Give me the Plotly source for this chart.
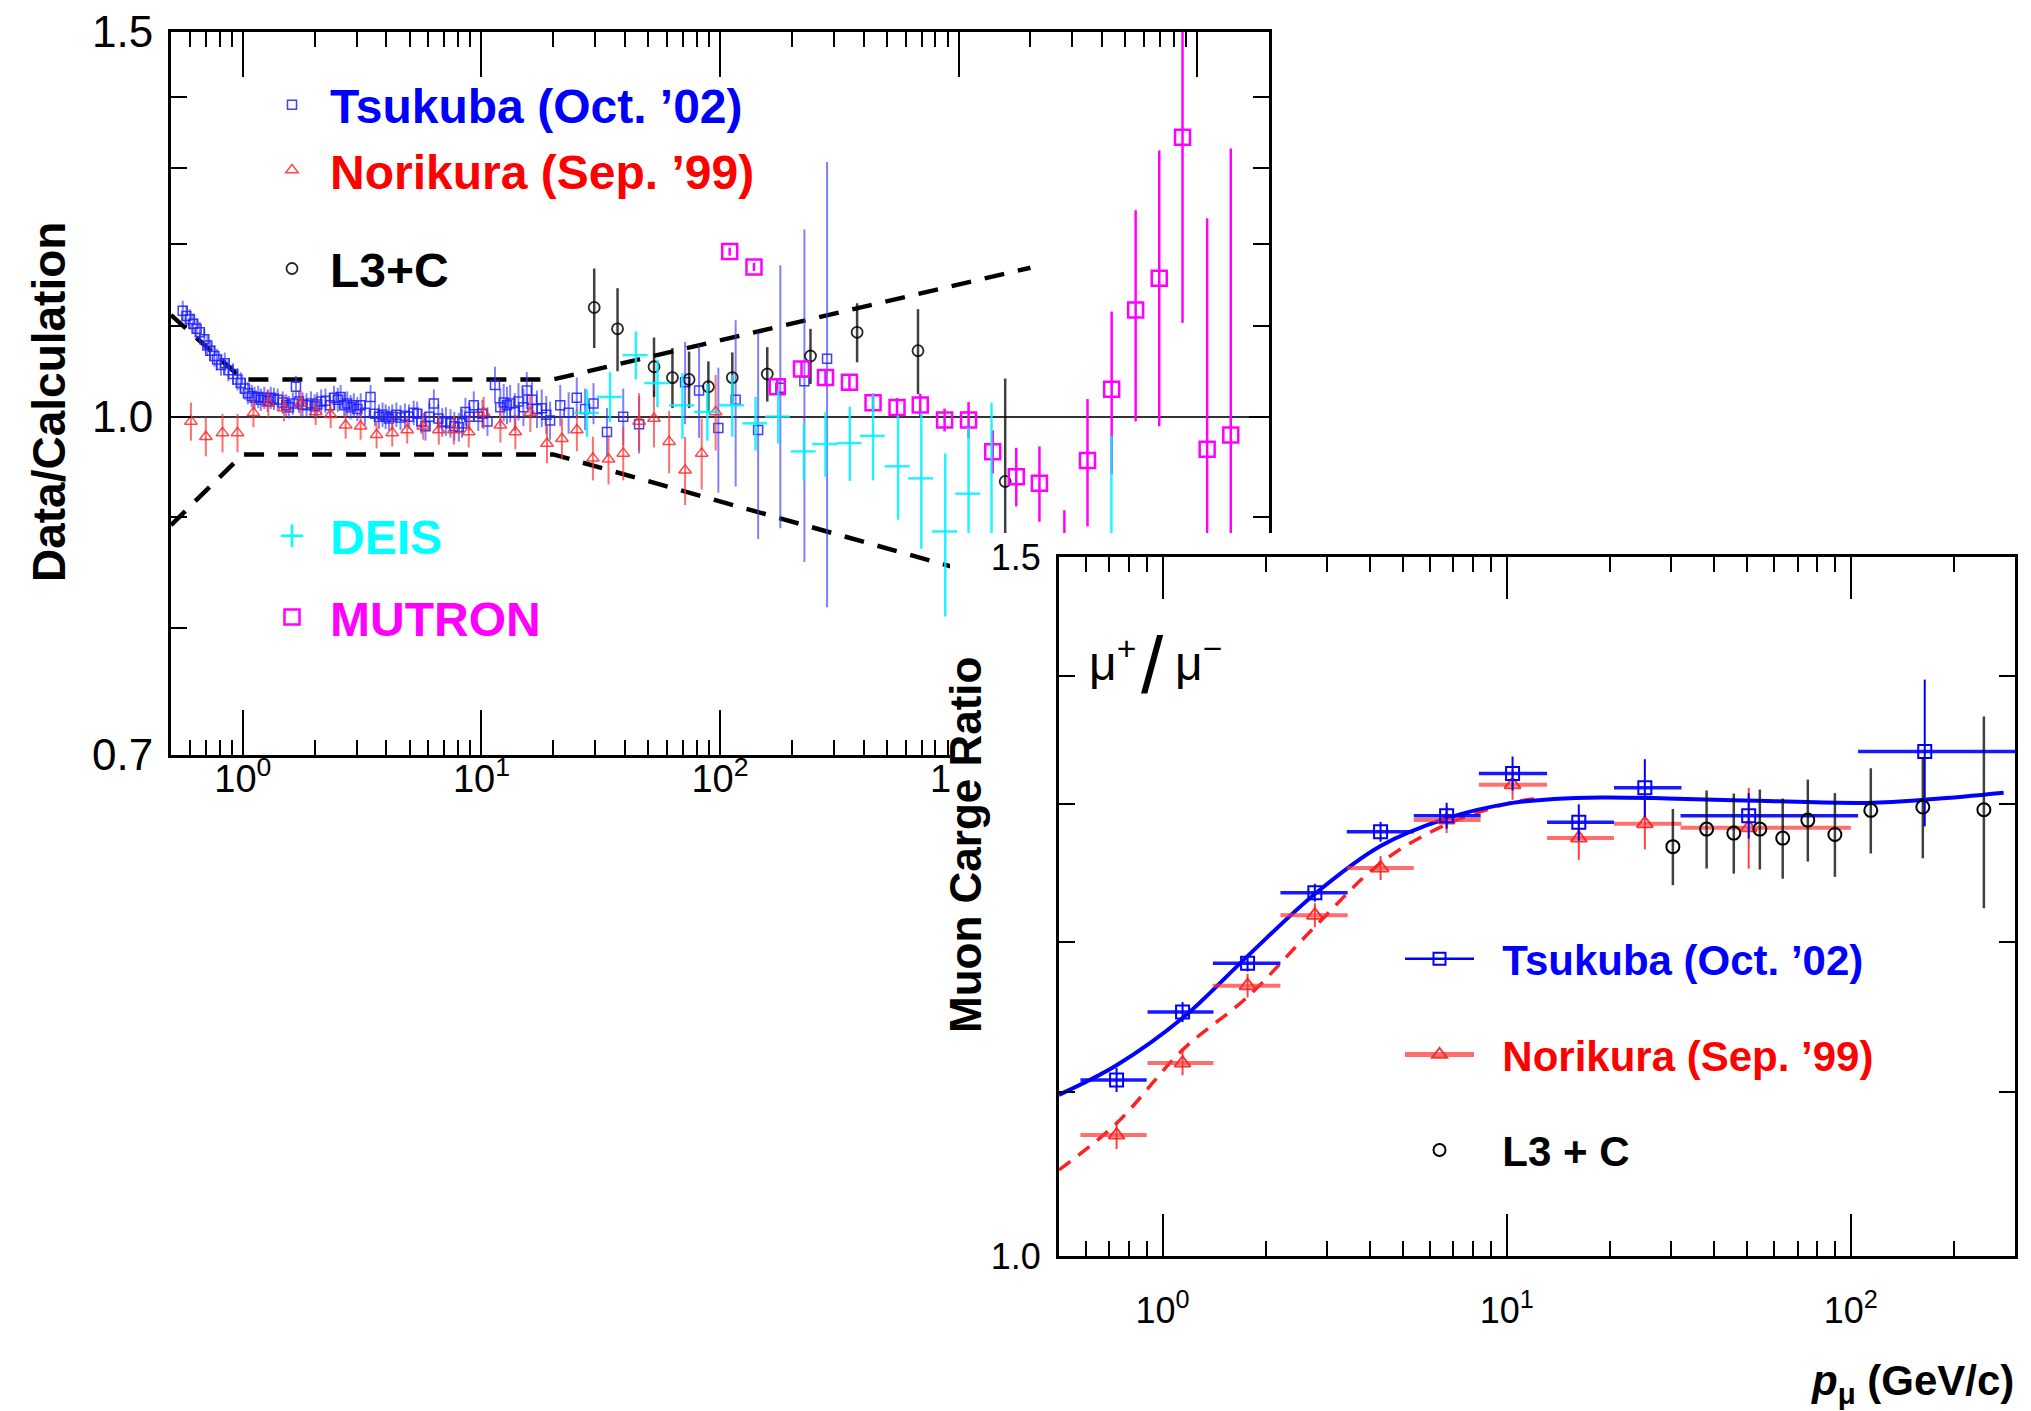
import math
import plotly.graph_objects as go

FONT = "Liberation Sans"
W, H = 2031, 1411

# ================= LEFT PANEL : Data / Calculation =================
tsu_p = [0.56, 0.58, 0.60, 0.62, 0.64, 0.66, 0.69, 0.71, 0.73, 0.76, 0.78, 0.81, 0.84, 0.87, 0.91,
         0.95, 0.98, 1.02, 1.05, 1.09, 1.12, 1.16, 1.19, 1.23, 1.27, 1.31, 1.35, 1.40, 1.47, 1.52,
         1.56, 1.62, 1.67, 1.72, 1.78, 1.85, 1.93, 2.00, 2.05, 2.13, 2.22, 2.32, 2.41, 2.50, 2.57,
         2.66, 2.74, 2.83, 2.92, 3.02, 3.12, 3.25, 3.43, 3.58, 3.72, 3.85, 3.97, 4.10, 4.23, 4.40,
         4.58, 4.78, 4.97, 5.20, 5.38, 5.60, 5.83, 6.05, 6.32, 6.60, 6.85, 7.10, 7.42, 7.70, 8.04,
         8.30, 8.57, 8.90, 9.29, 9.70, 10.1, 10.6, 11.4, 12.0, 12.4, 12.8, 13.2, 13.8, 14.3, 15.0,
         15.5, 16.3, 17.1, 17.9, 18.7, 19.4, 21.4, 23.2, 25.1, 27.2, 29.5, 33.6, 39.3, 45.8, 71.4,
         81.7, 98.4, 116.3, 144.5, 179.0, 225.8, 281.0]
tsu_ratio = [1.118, 1.112, 1.108, 1.103, 1.097, 1.093, 1.085, 1.078, 1.072, 1.066, 1.062, 1.056, 1.058, 1.050, 1.046,
             1.040, 1.036, 1.030, 1.025, 1.022, 1.020, 1.021, 1.018, 1.020, 1.017, 1.020, 1.019, 1.018, 1.015, 1.012,
             1.010, 1.014, 1.032, 1.016, 1.013, 1.012, 1.014, 1.011, 1.013, 1.016, 1.017, 1.012, 1.020, 1.018, 1.021,
             1.012, 1.014, 1.010, 1.012, 1.008, 1.012, 1.004, 1.021, 1.003, 1.000, 1.002, 1.000, 0.998, 1.000, 1.002,
             0.999, 1.001, 1.000, 1.004, 1.003, 0.995, 0.990, 1.000, 1.014, 0.998, 0.994, 0.995, 0.993, 0.990, 0.989,
             0.993, 1.005, 1.000, 1.012, 1.000, 1.003, 0.995, 1.034, 1.010, 1.015, 1.012, 1.014, 1.005, 1.016, 1.010,
             1.028, 1.018, 1.008, 1.009, 1.002, 0.996, 1.012, 1.004, 1.020, 1.008, 1.014, 0.984, 1.000, 0.992, 1.037,
             1.028, 0.988, 1.018, 0.986, 1.031, 1.038, 1.063]
tsu_err = [0.012, 0.012, 0.012, 0.012, 0.012, 0.012, 0.012, 0.012, 0.012, 0.012, 0.012, 0.012, 0.012, 0.012, 0.012,
           0.012, 0.012, 0.012, 0.012, 0.012, 0.012, 0.012, 0.012, 0.012, 0.012, 0.012, 0.012, 0.012, 0.012, 0.012,
           0.012, 0.012, 0.012, 0.012, 0.013, 0.013, 0.013, 0.013, 0.013, 0.013, 0.013, 0.013, 0.013, 0.013, 0.013,
           0.013, 0.013, 0.013, 0.013, 0.013, 0.013, 0.013, 0.013, 0.013, 0.013, 0.013, 0.013, 0.013, 0.013, 0.013,
           0.013, 0.013, 0.013, 0.013, 0.013, 0.013, 0.015, 0.015, 0.015, 0.015, 0.015, 0.015, 0.015, 0.015, 0.015,
           0.015, 0.015, 0.015, 0.015, 0.015, 0.015, 0.015, 0.020, 0.020, 0.020, 0.020, 0.020, 0.020, 0.020, 0.020,
           0.020, 0.020, 0.020, 0.020, 0.020, 0.020, 0.022, 0.022, 0.022, 0.022, 0.022, 0.025, 0.030, 0.030, 0.045,
           0.050, 0.065, 0.089, 0.107, 0.142, 0.180, 0.245]

nor_p = [0.606, 0.700, 0.822, 0.950, 1.108, 1.280, 1.489, 1.748, 2.020, 2.334, 2.697, 3.117, 3.636, 4.229,
         4.887, 5.701, 6.628, 7.661, 8.849, 10.22, 12.01, 13.88, 16.03, 18.83, 21.75, 25.13, 29.33, 34.1,
         39.3, 45.8, 52.9, 61.2, 71.4, 83.8, 95.9]
nor_ratio = [0.995, 0.979, 0.983, 0.983, 1.004, 1.014, 1.009, 1.014, 1.005, 1.002, 0.991, 0.990, 0.981, 0.983,
             0.986, 0.990, 0.986, 0.986, 0.984, 1.004, 0.991, 0.984, 1.004, 0.972, 0.977, 0.986, 0.957, 0.956,
             0.962, 0.995, 0.998, 0.974, 0.945, 0.962, 1.005]
nor_err = [0.020, 0.020, 0.020, 0.020, 0.015, 0.015, 0.014, 0.014, 0.014, 0.014, 0.014, 0.014, 0.014, 0.014,
           0.014, 0.014, 0.015, 0.015, 0.016, 0.017, 0.018, 0.018, 0.020, 0.020, 0.021, 0.022, 0.022, 0.025,
           0.027, 0.030, 0.030, 0.032, 0.034, 0.036, 0.040]

l3c_p = [29.7, 37.2, 52.9, 63.2, 74.2, 89.4, 112.6, 157.8, 239.5, 375.5, 675.8, 1568.0]
l3c_ratio = [1.122, 1.097, 1.054, 1.042, 1.040, 1.032, 1.042, 1.046, 1.066, 1.093, 1.072, 0.934]
l3c_err = [0.047, 0.048, 0.033, 0.033, 0.031, 0.028, 0.028, 0.030, 0.031, 0.034, 0.048, 0.107]

deis_p = [27.7, 34.6, 44.4, 54.7, 69.6, 88.5, 112.6, 141.0, 175.4, 224.7, 276.8, 349.9, 438.0, 557.5,
          698.0, 879.5, 1101.0, 1374.0, 4370.0]
deis_ratio = [1.004, 1.021, 1.067, 1.036, 1.012, 1.005, 1.012, 0.993, 1.000, 0.964, 0.9715, 0.9725, 0.980,
              0.949, 0.937, 0.886, 0.922, 0.880, 0.820]
deis_err = [0.025, 0.027, 0.027, 0.026, 0.035, 0.030, 0.033, 0.028, 0.028, 0.029, 0.033, 0.038, 0.045, 0.052,
            0.067, 0.076, 0.067, 0.135, 0.160]
deis_perr_pct = 12

mut_p = [109.8, 138.8, 173.8, 219.6, 276.8, 348.8, 438.0, 552.0, 691.0, 873.7, 1101.0, 1390.0, 1745.0,
         2182.0, 2776.0, 3470.0, 4381.0, 5521.0, 6934.0, 8681.0, 11010.0, 13830.0]
mut_ratio = [1.190, 1.171, 1.032, 1.0515, 1.042, 1.037, 1.0148, 1.0098, 1.0124, 0.9965, 0.9965, 0.9637,
             0.9387, 0.9321, 0.820, 0.9547, 1.0292, 1.119, 1.157, 1.3425, 0.9661, 0.9808]
mut_err = [0.005, 0.005, 0.008, 0.008, 0.008, 0.008, 0.010, 0.010, 0.012, 0.012, 0.019, 0.022, 0.029,
           0.037, 0.086, 0.064, 0.088, 0.124, 0.167, 0.2385, 0.2665, 0.346]

band_p = [0.5, 1.0, 20.0, 2000.0]
band_upper = [1.113, 1.040, 1.040, 1.170]
band_lower = [0.892, 0.961, 0.961, 0.834]

left_xticks = [1, 10, 100, 1000, 10000]
left_xticktext = ["10<sup>0</sup>", "10<sup>1</sup>", "10<sup>2</sup>", "10<sup>3</sup>", "10<sup>4</sup>"]
left_yticks = [0.7, 1.0, 1.5]
left_yticktext = ["0.7", "1.0", "1.5"]
left_yminor = [0.8, 0.9, 1.1, 1.2, 1.3, 1.4]

# ================= RIGHT PANEL : mu+/mu- charge ratio =================
r_tsu_p = [0.735, 1.143, 1.766, 2.77, 4.30, 6.69, 10.4, 16.2, 25.2, 50.5, 164.0]
r_tsu_lo = [0.577, 0.904, 1.40, 2.20, 3.43, 5.37, 8.3, 13.1, 20.5, 32.0, 105.0]
r_tsu_hi = [0.899, 1.406, 2.20, 3.45, 5.37, 8.4, 13.1, 20.5, 32.2, 105.0, 330.0]
r_tsu_ratio = [1.1075, 1.152, 1.185, 1.2346, 1.279, 1.291, 1.323, 1.286, 1.312, 1.291, 1.340]
r_tsu_err = [0.0077, 0.0067, 0.0055, 0.0064, 0.0074, 0.0097, 0.013, 0.0135, 0.022, 0.017, 0.057]

r_nor_p = [0.735, 1.143, 1.766, 2.77, 4.30, 6.69, 10.4, 16.2, 25.2, 50.5]
r_nor_lo = [0.577, 0.904, 1.40, 2.20, 3.43, 5.37, 8.3, 13.1, 20.5, 32.0]
r_nor_hi = [0.899, 1.406, 2.20, 3.45, 5.37, 8.4, 13.1, 20.5, 32.2, 100.0]
r_nor_ratio = [1.0727, 1.1184, 1.1698, 1.2186, 1.2524, 1.2877, 1.3144, 1.2743, 1.285, 1.282]
r_nor_err = [0.0087, 0.0078, 0.008, 0.0085, 0.0087, 0.0097, 0.0114, 0.016, 0.019, 0.030]

r_l3c_p = [30.4, 38.1, 45.7, 54.4, 63.4, 75.0, 89.9, 114.3, 161.9, 243.6]
r_l3c_ratio = [1.268, 1.281, 1.278, 1.281, 1.2743, 1.2877, 1.277, 1.295, 1.2975, 1.2955]
r_l3c_err = [0.028, 0.029, 0.0297, 0.0297, 0.0296, 0.0306, 0.031, 0.032, 0.038, 0.072]

fit_tsu_p = [0.5, 0.735, 1.143, 1.766, 2.77, 4.30, 6.69, 10.4, 13.7, 18.8, 29.3, 57.4, 112.0, 174.0, 278.0]
fit_tsu = [1.098, 1.117, 1.148, 1.190, 1.2337, 1.2685, 1.289, 1.3006, 1.3035, 1.3047, 1.304, 1.302, 1.3006,
           1.3035, 1.3083]
fit_nor_p = [0.5, 0.735, 1.143, 1.766, 2.77, 4.30, 6.69, 10.4, 12.0]
fit_nor = [1.0512, 1.080, 1.127, 1.1622, 1.2104, 1.256, 1.2845, 1.301, 1.3035]

right_xticks = [1, 10, 100]
right_xticktext = ["10<sup>0</sup>", "10<sup>1</sup>", "10<sup>2</sup>"]
right_yticks = [1.0, 1.5]
right_yticktext = ["1.0", "1.5"]
right_yminor = [1.1, 1.2, 1.3, 1.4]

# ---------------- helpers ----------------
def minor_log(lo, hi):
    out = []
    for e in range(-2, 6):
        for k in range(2, 10):
            v = k * 10 ** e
            if lo - 1e-9 <= v <= hi + 1e-9:
                out.append(round(v, 6))
    return out


def col(name, color):
    return '<span style="color:%s">%s</span>' % (color, name)

BLUE = "#0000ff"
RED = "#ff0000"
CYAN = "#00ffff"
MAG = "#ff00ff"

fig = go.Figure()

# ---- left panel traces ----
for band in (band_upper, band_lower):
    fig.add_trace(go.Scatter(x=band_p, y=band, mode="lines", xaxis="x", yaxis="y",
                             line=dict(color="black", width=4.5, dash="20px,14px"),
                             showlegend=False, hoverinfo="skip"))

fig.add_trace(go.Scatter(
    x=tsu_p, y=tsu_ratio, mode="markers", xaxis="x", yaxis="y",
    marker=dict(symbol="square-open", size=9, color="rgba(30,30,255,0.85)", line=dict(width=1.5)),
    error_y=dict(type="data", array=tsu_err, color="rgba(60,60,255,0.65)", thickness=2, width=0),
    name=col("Tsukuba (Oct. ’02)", BLUE), legend="legend", legendgroup="a"))

fig.add_trace(go.Scatter(
    x=nor_p, y=nor_ratio, mode="markers", xaxis="x", yaxis="y",
    marker=dict(symbol="triangle-up-open", size=11, color="rgba(255,40,40,0.85)", line=dict(width=1.5)),
    error_y=dict(type="data", array=nor_err, color="rgba(255,50,50,0.7)", thickness=2, width=0),
    name=col("Norikura (Sep. ’99)", RED), legend="legend", legendgroup="a"))

fig.add_trace(go.Scatter(
    x=l3c_p, y=l3c_ratio, mode="markers", xaxis="x", yaxis="y",
    marker=dict(symbol="circle-open", size=11, color="rgba(0,0,0,0.85)", line=dict(width=1.8)),
    error_y=dict(type="data", array=l3c_err, color="rgba(0,0,0,0.75)", thickness=2.5, width=0),
    name="L3+C", legend="legend", legendgroup="b"))

fig.add_trace(go.Scatter(
    x=[None], y=[None], mode="markers", xaxis="x", yaxis="y",
    marker=dict(symbol="cross-thin-open", size=24, color=CYAN, line=dict(width=2.5, color=CYAN)),
    name=col("DEIS", CYAN), legend="legend2", legendgroup="c"))

fig.add_trace(go.Scatter(
    x=mut_p, y=mut_ratio, mode="markers", xaxis="x", yaxis="y",
    marker=dict(symbol="square-open", size=15, color=MAG, line=dict(width=2.5)),
    error_y=dict(type="data", array=mut_err, color=MAG, thickness=2.5, width=0),
    name=col("MUTRON", MAG), legend="legend2", legendgroup="d"))

fig.add_trace(go.Scatter(
    x=deis_p, y=deis_ratio, mode="markers", xaxis="x", yaxis="y",
    marker=dict(size=1, color="rgba(0,0,0,0)"),
    error_y=dict(type="data", array=deis_err, color="rgba(0,240,255,0.85)", thickness=2.5, width=0),
    error_x=dict(type="percent", value=deis_perr_pct, color="rgba(0,240,255,0.85)", thickness=2.5, width=0),
    showlegend=False, hoverinfo="skip"))

# ---- cover subplot (white, hides lower-right of left panel) ----
fig.add_trace(go.Scatter(x=[None], y=[None], xaxis="x2", yaxis="y2", showlegend=False, hoverinfo="skip"))

# ---- right panel traces ----
fig.add_trace(go.Scatter(x=fit_nor_p, y=fit_nor, mode="lines", xaxis="x3", yaxis="y3",
                         line=dict(color="#ff2020", width=3.5, dash="14px,10px", shape="spline"),
                         showlegend=False, hoverinfo="skip"))
fig.add_trace(go.Scatter(x=fit_tsu_p, y=fit_tsu, mode="lines", xaxis="x3", yaxis="y3",
                         line=dict(color=BLUE, width=4, shape="spline"),
                         showlegend=False, hoverinfo="skip"))

fig.add_trace(go.Scatter(
    x=r_nor_p, y=r_nor_ratio, mode="markers", xaxis="x3", yaxis="y3",
    marker=dict(symbol="triangle-up-open", size=14, color="rgba(255,30,30,0.9)", line=dict(width=2)),
    error_x=dict(type="data", array=[h - p for h, p in zip(r_nor_hi, r_nor_p)],
                 arrayminus=[p - l for l, p in zip(r_nor_lo, r_nor_p)],
                 color="rgba(255,50,50,0.7)", thickness=4, width=0),
    error_y=dict(type="data", array=r_nor_err, color="rgba(255,30,30,0.85)", thickness=2, width=0),
    showlegend=False))

fig.add_trace(go.Scatter(
    x=r_tsu_p, y=r_tsu_ratio, mode="markers", xaxis="x3", yaxis="y3",
    marker=dict(symbol="square-open", size=13, color=BLUE, line=dict(width=2)),
    error_x=dict(type="data", array=[h - p for h, p in zip(r_tsu_hi, r_tsu_p)],
                 arrayminus=[p - l for l, p in zip(r_tsu_lo, r_tsu_p)],
                 color="rgba(0,0,255,0.9)", thickness=3.5, width=0),
    error_y=dict(type="data", array=r_tsu_err, color=BLUE, thickness=2, width=0),
    showlegend=False))

fig.add_trace(go.Scatter(
    x=r_l3c_p, y=r_l3c_ratio, mode="markers", xaxis="x3", yaxis="y3",
    marker=dict(symbol="circle-open", size=13, color="black", line=dict(width=2)),
    error_y=dict(type="data", array=r_l3c_err, color="rgba(0,0,0,0.75)", thickness=2.5, width=0),
    showlegend=False))

# legend entries of the right panel
NB = "\u00a0\u00a0"
fig.add_trace(go.Scatter(x=[None], y=[None], mode="lines+markers", xaxis="x3", yaxis="y3",
                         line=dict(color=BLUE, width=2.5),
                         marker=dict(symbol="square-open", size=12, color=BLUE, line=dict(width=2)),
                         name=NB + col("Tsukuba (Oct. ’02)", BLUE), legend="legend3", legendgroup="r1"))
fig.add_trace(go.Scatter(x=[None], y=[None], mode="lines+markers", xaxis="x3", yaxis="y3",
                         line=dict(color="rgba(255,60,60,0.75)", width=5),
                         marker=dict(symbol="triangle-up-open", size=13, color="rgba(255,30,30,0.9)",
                                     line=dict(width=2)),
                         name=NB + col("Norikura (Sep. ’99)", RED), legend="legend3", legendgroup="r2"))
fig.add_trace(go.Scatter(x=[None], y=[None], mode="markers", xaxis="x3", yaxis="y3",
                         marker=dict(symbol="circle-open", size=12, color="black", line=dict(width=2)),
                         name=NB + "L3 + C", legend="legend3", legendgroup="r3"))

# ---------------- axes ----------------
def dom_x(a, b):
    return [a / W, b / W]


def dom_y(top, bottom):
    return [(H - bottom) / H, (H - top) / H]

axis_common = dict(showline=True, linecolor="black", linewidth=3, mirror="ticks", ticks="inside",
                   tickcolor="black", tickwidth=2, showgrid=False, zeroline=False,
                   tickfont=dict(family=FONT, color="black"))

fig.update_layout(
    xaxis=dict(axis_common, type="log", range=[math.log10(0.5), math.log10(2e4)], domain=dom_x(171, 1269),
               anchor="y", tickmode="array", tickvals=left_xticks, ticktext=left_xticktext, ticklen=45,
               tickfont=dict(family=FONT, size=38, color="black"), ticklabelstandoff=-12,
               minor=dict(tickmode="array", tickvals=minor_log(0.5, 2e4), ticks="inside", ticklen=15,
                          tickwidth=2, tickcolor="black", showgrid=False)),
    yaxis=dict(axis_common, type="log", range=[math.log10(0.7), math.log10(1.5)], domain=dom_y(32, 755),
               anchor="x", tickmode="array", tickvals=left_yticks, ticktext=left_yticktext, ticklen=20,
               tickfont=dict(family=FONT, size=44, color="black"), ticklabelstandoff=6,
               showgrid=True, gridcolor="#333333", gridwidth=2,
               minor=dict(tickmode="array", tickvals=left_yminor, ticks="inside", ticklen=16,
                          tickwidth=2, tickcolor="black", showgrid=False)),
    xaxis2=dict(domain=[950 / W, 1.0], anchor="y2", range=[0, 1], showline=False, showticklabels=False,
                ticks="", showgrid=False, zeroline=False),
    yaxis2=dict(domain=[0.0, (H - 533) / H], anchor="x2", range=[0, 1], showline=False,
                showticklabels=False, ticks="", showgrid=False, zeroline=False),
    xaxis3=dict(axis_common, type="log", range=[math.log10(0.5), math.log10(300)], domain=dom_x(1059, 2015),
                anchor="y3", tickmode="array", tickvals=right_xticks, ticktext=right_xticktext, ticklen=42,
                tickfont=dict(family=FONT, size=36, color="black"), ticklabelstandoff=21,
                minor=dict(tickmode="array", tickvals=minor_log(0.5, 300), ticks="inside", ticklen=15,
                           tickwidth=2, tickcolor="black", showgrid=False)),
    yaxis3=dict(axis_common, type="log", range=[0, math.log10(1.5)], domain=dom_y(557, 1256),
                anchor="x3", tickmode="array", tickvals=right_yticks, ticktext=right_yticktext, ticklen=16,
                tickfont=dict(family=FONT, size=36, color="black"), ticklabelstandoff=8,
                minor=dict(tickmode="array", tickvals=right_yminor, ticks="inside", ticklen=16,
                           tickwidth=2, tickcolor="black", showgrid=False)),
)

legend_common = dict(bgcolor="rgba(0,0,0,0)", borderwidth=0, xanchor="left", yanchor="top",
                     traceorder="grouped", itemclick=False, itemdoubleclick=False)
fig.update_layout(
    legend=dict(legend_common, x=254 / W, y=1 - 67 / H, tracegroupgap=33, itemwidth=66,
                font=dict(family=FONT, size=48, color="black", weight="bold")),
    legend2=dict(legend_common, x=254 / W, y=1 - 498 / H, tracegroupgap=16, itemwidth=66,
                 font=dict(family=FONT, size=48, color="black", weight="bold")),
    legend3=dict(legend_common, x=1400 / W, y=1 - 925 / H, tracegroupgap=38, itemwidth=69,
                 font=dict(family=FONT, size=42, color="black", weight="bold")),
)

annotations = [
    dict(text="<b>Data/Calculation</b>", x=49 / W, y=1 - 402 / H, xref="paper", yref="paper",
         textangle=-90, showarrow=False, font=dict(family=FONT, size=46, color="black"),
         xanchor="center", yanchor="middle"),
    dict(text="<b>Muon Carge Ratio</b>", x=965 / W, y=1 - 845 / H, xref="paper", yref="paper",
         textangle=-90, showarrow=False, font=dict(family=FONT, size=44, color="black"),
         xanchor="center", yanchor="middle"),
    dict(text="<b><i>p</i><sub>μ</sub> (GeV/c)</b>", x=2016 / W, y=1 - 1383 / H, xref="paper", yref="paper",
         showarrow=False, font=dict(family=FONT, size=42, color="black"), xanchor="right", yanchor="middle"),
    dict(text="μ<sup>+</sup>", x=1112 / W, y=1 - 660 / H, xref="paper", yref="paper",
         showarrow=False, font=dict(family=FONT, size=48, color="black"), xanchor="center", yanchor="middle"),
    dict(text="/", x=1152 / W, y=1 - 666 / H, xref="paper", yref="paper",
         showarrow=False, font=dict(family=FONT, size=80, color="black"), xanchor="center", yanchor="middle"),
    dict(text="μ<sup>−</sup>", x=1198 / W, y=1 - 660 / H, xref="paper", yref="paper",
         showarrow=False, font=dict(family=FONT, size=48, color="black"), xanchor="center", yanchor="middle"),
]

fig.update_layout(
    width=W, height=H, margin=dict(l=0, r=0, t=0, b=0, autoexpand=False),
    paper_bgcolor="white", plot_bgcolor="white", template="none",
    font=dict(family=FONT, color="black"), annotations=annotations, hovermode=False,
)

fig.write_html("out.html", config={"displayModeBar": False})
